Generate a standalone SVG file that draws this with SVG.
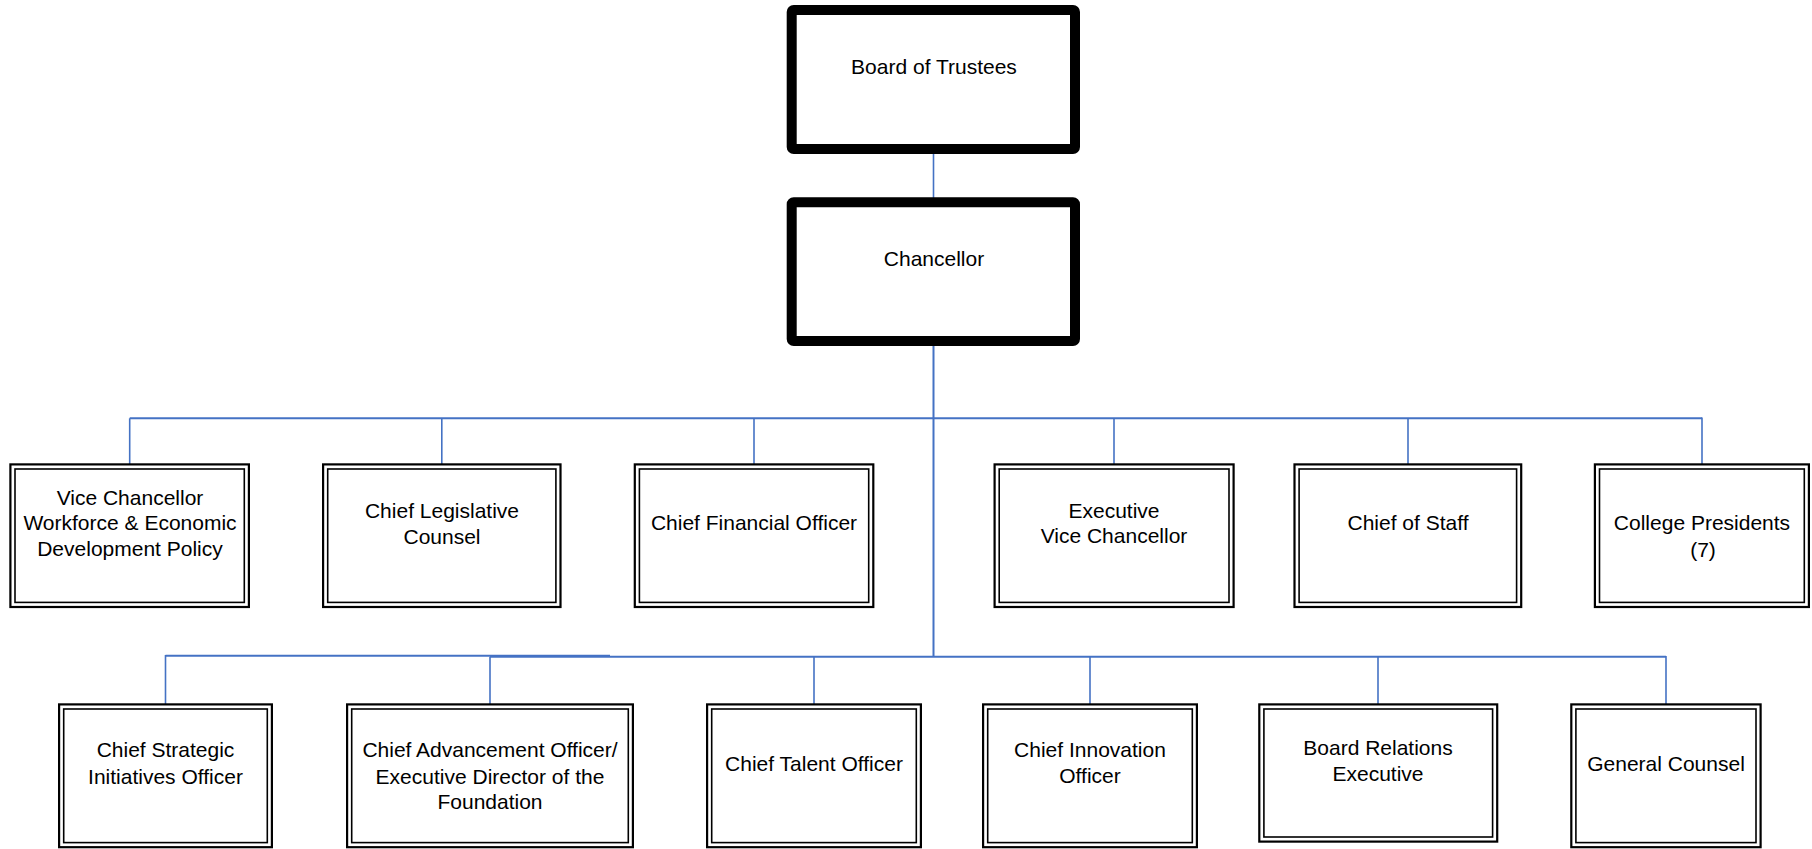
<svg xmlns="http://www.w3.org/2000/svg" width="1812" height="849" viewBox="0 0 1812 849">
<style>
.bg{fill:#ffffff}
.thick{fill:#ffffff;stroke:#000000;stroke-width:10}
.outer{fill:#ffffff;stroke:#000000;stroke-width:2.2}
.inner{fill:none;stroke:#000000;stroke-width:1.6}
.conn{stroke:#4472C4;stroke-width:1.6;fill:none}
.trunk{stroke:#4472C4;stroke-width:2;fill:none}
text{font-family:"Liberation Sans",Arial,sans-serif;font-size:21px;fill:#000000;text-anchor:middle}
</style>
<rect class="bg" x="0" y="0" width="1812" height="849"/>
<g id="connectors">
<line class="conn" x1="933.5" y1="154" x2="933.5" y2="198"/>
<line class="trunk" x1="933.5" y1="345" x2="933.5" y2="657"/>
<line class="trunk" x1="129.7" y1="418.3" x2="1702" y2="418.3"/>
<line class="conn" x1="129.7" y1="418.3" x2="129.7" y2="464"/>
<line class="conn" x1="441.8" y1="418.3" x2="441.8" y2="464"/>
<line class="conn" x1="754" y1="418.3" x2="754" y2="464"/>
<line class="conn" x1="1114" y1="418.3" x2="1114" y2="464"/>
<line class="conn" x1="1408" y1="418.3" x2="1408" y2="464"/>
<line class="conn" x1="1702" y1="417.5" x2="1702" y2="464"/>
<line class="trunk" x1="165.5" y1="655.8" x2="610" y2="655.8"/>
<line class="trunk" x1="490" y1="656.8" x2="1666" y2="656.8"/>
<line class="conn" x1="165.5" y1="655" x2="165.5" y2="704"/>
<line class="conn" x1="490" y1="656.8" x2="490" y2="704"/>
<line class="conn" x1="814" y1="656.8" x2="814" y2="704"/>
<line class="conn" x1="1090" y1="656.8" x2="1090" y2="704"/>
<line class="conn" x1="1378" y1="656.8" x2="1378" y2="704"/>
<line class="conn" x1="1666" y1="656" x2="1666" y2="704"/>
</g>
<g id="board">
<rect class="thick" x="791.7" y="10" width="283.3" height="139" rx="2"/>
<text x="934" y="73.5">Board of Trustees</text>
</g>
<g id="chancellor">
<rect class="thick" x="791.7" y="202.3" width="283.3" height="138.7" rx="2"/>
<text x="934" y="266">Chancellor</text>
</g>
<g id="vc-workforce">
<rect class="outer" x="10.4" y="464.4" width="238.5" height="142.6"/>
<rect class="inner" x="15" y="469" width="229.3" height="133.4"/>
<text x="130" y="505">Vice Chancellor</text>
<text x="130" y="530">Workforce &amp; Economic</text>
<text x="130" y="556">Development Policy</text>
</g>
<g id="legislative">
<rect class="outer" x="323.1" y="464.4" width="237.4" height="142.6"/>
<rect class="inner" x="327.7" y="469" width="228.2" height="133.4"/>
<text x="442" y="518">Chief Legislative</text>
<text x="442" y="543.5">Counsel</text>
</g>
<g id="cfo">
<rect class="outer" x="634.8" y="464.4" width="238.5" height="142.6"/>
<rect class="inner" x="639.4" y="469" width="229.3" height="133.4"/>
<text x="754" y="530">Chief Financial Officer</text>
</g>
<g id="evc">
<rect class="outer" x="994.6" y="464.4" width="239" height="142.6"/>
<rect class="inner" x="999.2" y="469" width="229.8" height="133.4"/>
<text x="1114" y="518.3">Executive</text>
<text x="1114" y="543.3">Vice Chancellor</text>
</g>
<g id="staff">
<rect class="outer" x="1294.5" y="464.4" width="226.7" height="142.6"/>
<rect class="inner" x="1299.1" y="469" width="217.5" height="133.4"/>
<text x="1408" y="530">Chief of Staff</text>
</g>
<g id="presidents">
<rect class="outer" x="1594.9" y="464.4" width="214" height="142.6"/>
<rect class="inner" x="1599.5" y="469" width="204.8" height="133.4"/>
<text x="1702" y="530">College Presidents</text>
<text x="1703" y="556.5">(7)</text>
</g>
<g id="strategic">
<rect class="outer" x="59.1" y="704.4" width="212.8" height="142.8"/>
<rect class="inner" x="63.7" y="709" width="203.6" height="133.6"/>
<text x="165.5" y="757.3">Chief Strategic</text>
<text x="165.5" y="784">Initiatives Officer</text>
</g>
<g id="advancement">
<rect class="outer" x="347.1" y="704.4" width="285.8" height="142.8"/>
<rect class="inner" x="351.7" y="709" width="276.6" height="133.6"/>
<text x="490" y="757.3">Chief Advancement Officer/</text>
<text x="490" y="783.5">Executive Director of the</text>
<text x="490" y="808.5">Foundation</text>
</g>
<g id="talent">
<rect class="outer" x="707.1" y="704.4" width="213.8" height="142.8"/>
<rect class="inner" x="711.7" y="709" width="204.6" height="133.6"/>
<text x="814" y="770.7">Chief Talent Officer</text>
</g>
<g id="innovation">
<rect class="outer" x="983.1" y="704.4" width="213.8" height="142.8"/>
<rect class="inner" x="987.7" y="709" width="204.6" height="133.6"/>
<text x="1090" y="757.3">Chief Innovation</text>
<text x="1090" y="783.3">Officer</text>
</g>
<g id="board-relations">
<rect class="outer" x="1259.3" y="704.4" width="237.9" height="137.2"/>
<rect class="inner" x="1263.9" y="709" width="228.7" height="128"/>
<text x="1378" y="755">Board Relations</text>
<text x="1378" y="780.7">Executive</text>
</g>
<g id="general-counsel">
<rect class="outer" x="1571.3" y="704.4" width="189.3" height="142.8"/>
<rect class="inner" x="1575.9" y="709" width="180.1" height="133.6"/>
<text x="1666" y="770.7">General Counsel</text>
</g>
</svg>
